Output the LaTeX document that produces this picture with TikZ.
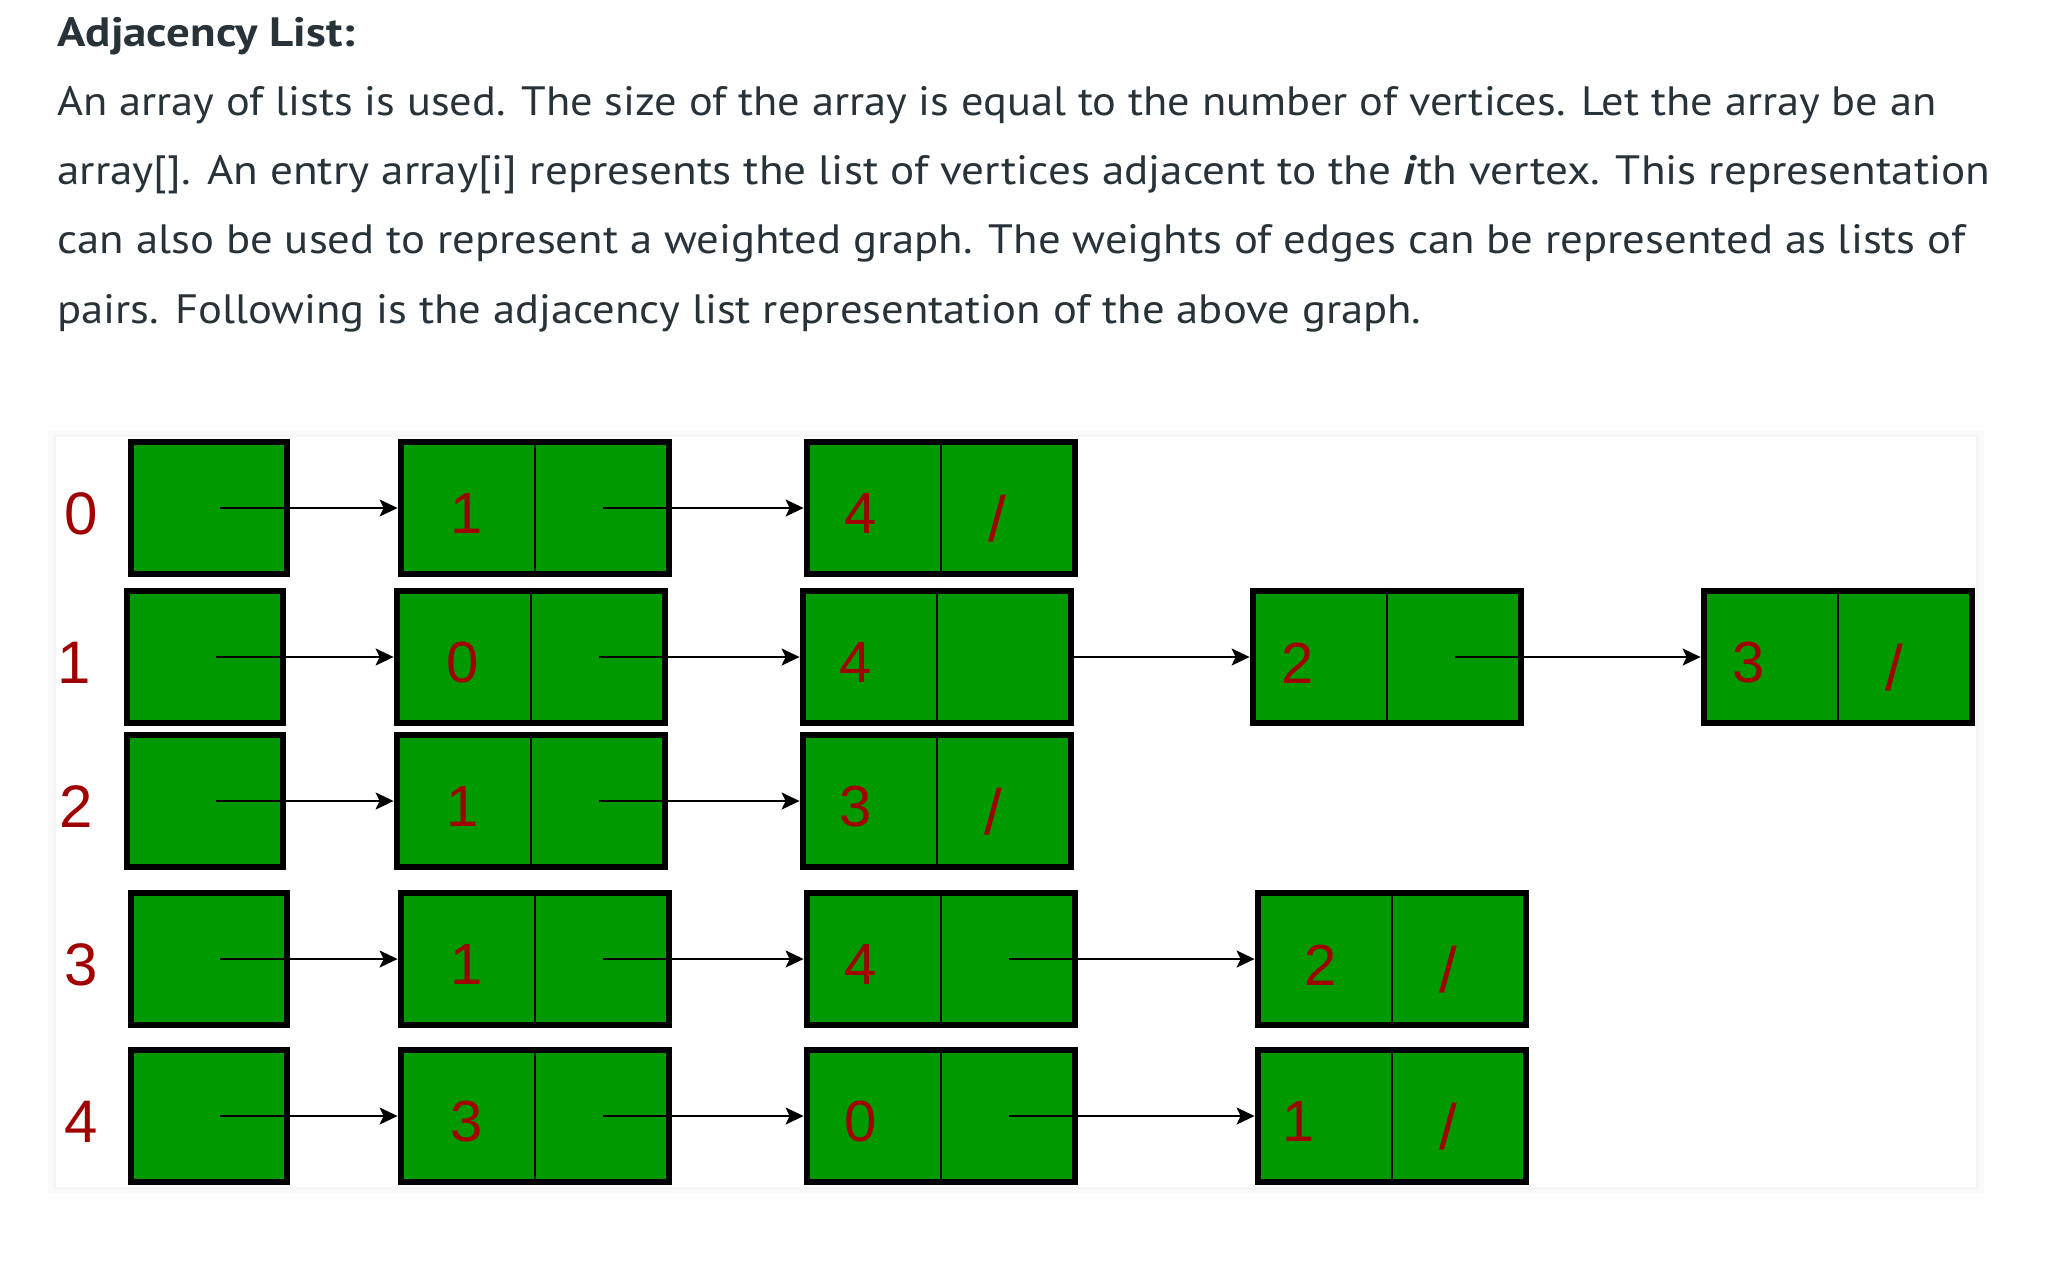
\documentclass[tikz,border=0pt]{standalone}
\usepackage{fontspec}
\setmainfont{PT Sans}
\newfontfamily\arialfont{Liberation Sans}
\usetikzlibrary{arrows.meta}
\definecolor{gfgtext}{RGB}{39,50,57}
\definecolor{cellgreen}{RGB}{0,153,0}
\definecolor{valred}{RGB}{160,0,0}

\newcommand{\headbox}[3]{%
  \node[headcell] (#1) at (#2,#3) {};
  \coordinate (#1p) at ({#2+11},#3);
}
\newcommand{\listnode}[5]{%
  \node[listcell] (#1) at (#2,#3) {};
  \draw[divider] (#1.north) -- (#1.south);
  \node[val] (#1v) at ({#2-68+#5},{#3+6}) {#4};
  \coordinate (#1p) at ({#2+68},#3);
}
\newcommand{\lastnode}[5]{%
  \listnode{#1}{#2}{#3}{#4}{#5}
  \node[nullmark] (#1s) at ({#2+56},{#3+11}) {/};
}

\begin{document}
\begin{tikzpicture}[x=0.5pt, y=-0.5pt,
    bodytext/.style={anchor=base west, inner sep=0pt, text=gfgtext,
      font=\fontsize{20.5}{25}\selectfont},
    headcell/.style={draw, line width=3.4pt, fill=cellgreen,
      minimum width=78pt, minimum height=66pt},
    listcell/.style={headcell, minimum width=134pt},
    divider/.style={line width=1pt},
    val/.style={inner sep=0pt, text=valred, font=\arialfont\fontsize{29}{29}\selectfont},
    nullmark/.style={val, font=\arialfont\fontsize{32}{32}\selectfont},
    idx/.style={val, font=\arialfont\fontsize{30}{30}\selectfont},
    ptr/.style={-{Stealth[length=9pt, width=8.5pt, inset=2pt]}, line width=1pt}]
  \useasboundingbox (0,0) rectangle (2054,1287);
  \fill[white] (0,0) rectangle (2054,1287);

  \node[bodytext, font=\fontsize{20.5}{25}\selectfont\bfseries] (title) at (57,46)
    {\resizebox{149pt}{\height}{Adjacency List:}};
  \node[bodytext] (line1) at (57,115)
    {\resizebox{939.5pt}{\height}{An array of lists is used. The size of the array is equal to the number of vertices. Let the array be an}};
  \node[bodytext] (line2) at (57,184)
    {\resizebox{966.5pt}{\height}{array[]. An entry array[i] represents the list of vertices adjacent to the \textbf{\textit{i}}th vertex. This representation}};
  \node[bodytext] (line3) at (57,253)
    {\resizebox{954pt}{\height}{can also be used to represent a weighted graph. The weights of edges can be represented as lists of}};
  \node[bodytext] (line4) at (57,323)
    {\resizebox{682pt}{\height}{pairs. Following is the adjacency list representation of the above graph.}};

  \begin{scope}
    \fill[black!2] (48,430) rectangle (1984,1194);
    \fill[black!3.5] (53,434) rectangle (1979,1190);
    \fill[white] (56,437) rectangle (1976,1187);
  \end{scope}

  \node[idx] (l0) at (81,514) {0};
  \node[idx] (l1) at (74,663) {1};
  \node[idx] (l2) at (76,807) {2};
  \node[idx] (l3) at (81,965) {3};
  \node[idx] (l4) at (81,1122) {4};

  \headbox{r0h}{209}{508}
  \listnode{r0n1}{535}{508}{1}{0}
  \lastnode{r0n2}{941}{508}{4}{-12}

  \headbox{r1h}{205}{657}
  \listnode{r1n1}{531}{657}{0}{0}
  \listnode{r1n2}{937}{657}{4}{-13}
  \listnode{r1n3}{1387}{657}{2}{-21}
  \lastnode{r1n4}{1838}{657}{3}{-21}

  \headbox{r2h}{205}{801}
  \listnode{r2n1}{531}{801}{1}{0}
  \lastnode{r2n2}{937}{801}{3}{-13}

  \headbox{r3h}{209}{959}
  \listnode{r3n1}{535}{959}{1}{0}
  \listnode{r3n2}{941}{959}{4}{-12}
  \lastnode{r3n3}{1392}{959}{2}{-3}

  \headbox{r4h}{209}{1116}
  \listnode{r4n1}{535}{1116}{3}{0}
  \listnode{r4n2}{941}{1116}{0}{-12}
  \lastnode{r4n3}{1392}{1116}{1}{-25}

  \begin{scope}[ptr]
    \draw (r0hp) -- (r0n1);
    \draw (r0n1p) -- (r0n2);
    \draw (r1hp) -- (r1n1);
    \draw (r1n1p) -- (r1n2);
    \draw (r1n2.east) -- (r1n3);
    \draw (r1n3p) -- (r1n4);
    \draw (r2hp) -- (r2n1);
    \draw (r2n1p) -- (r2n2);
    \draw (r3hp) -- (r3n1);
    \draw (r3n1p) -- (r3n2);
    \draw (r3n2p) -- (r3n3);
    \draw (r4hp) -- (r4n1);
    \draw (r4n1p) -- (r4n2);
    \draw (r4n2p) -- (r4n3);
  \end{scope}
\end{tikzpicture}
\end{document}
